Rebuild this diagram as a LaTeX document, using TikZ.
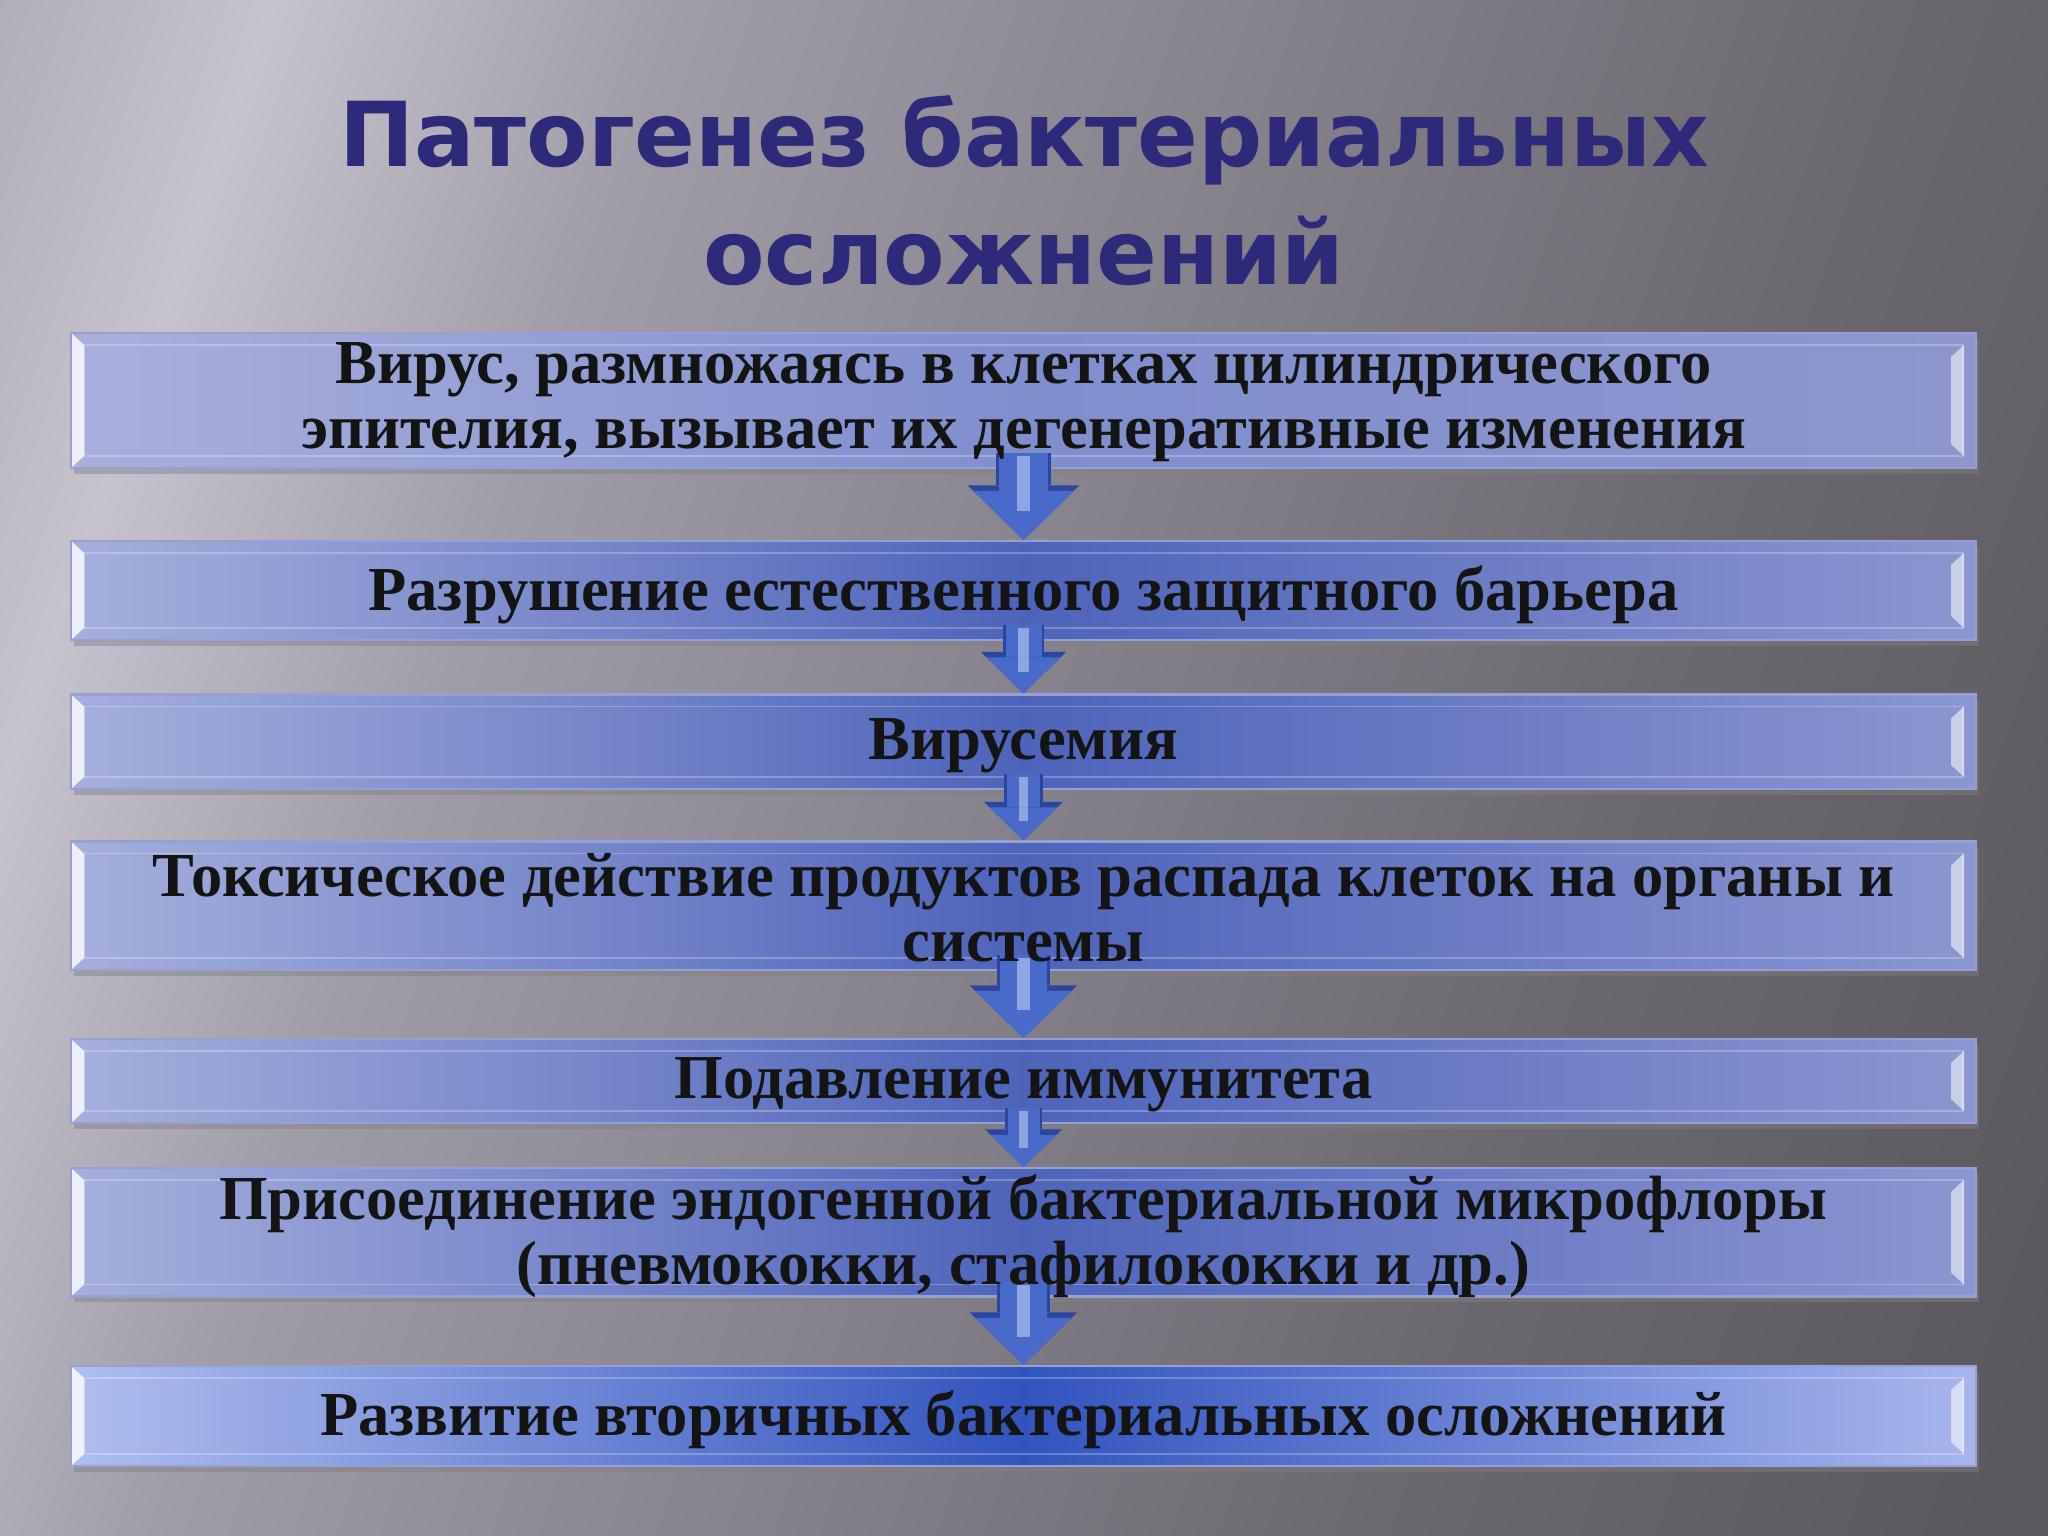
\documentclass[tikz,border=0pt]{standalone}
\usepackage{fontspec}
\setmainfont{Liberation Serif}
\newfontfamily\titlefont{DejaVu Sans}
\usetikzlibrary{arrows.meta,shadows}

\definecolor{titleblue}{RGB}{46,42,122}
\definecolor{boxedge}{RGB}{150,160,210}
\definecolor{boxleft}{RGB}{166,175,220}
\definecolor{boxmid}{RGB}{78,100,186}
\definecolor{boxright}{RGB}{140,150,208}
\definecolor{arrowblue}{RGB}{74,106,202}
\definecolor{arrowedge}{RGB}{44,70,160}
\definecolor{arrowlight}{RGB}{200,212,248}
\definecolor{bgA}{RGB}{152,148,160}
\definecolor{bgB}{RGB}{170,166,178}
\definecolor{bgC}{RGB}{198,194,206}
\definecolor{bgD}{RGB}{160,156,168}
\definecolor{bgE}{RGB}{134,130,140}
\definecolor{bgF}{RGB}{108,104,112}
\definecolor{bgG}{RGB}{92,88,95}
\pgfdeclarehorizontalshading{slideshade}{100bp}{color(0bp)=(bgA); color(16bp)=(bgB);
  color(25bp)=(bgC); color(35bp)=(bgD); color(50bp)=(bgE); color(65bp)=(bgF);
  color(80bp)=(bgG); color(100bp)=(bgG)}

\tikzset{
  stage/.style={rectangle, draw=boxedge, line width=0.6pt, inner sep=0pt,
    minimum width=19.05cm, minimum height=#1,
    left color=boxleft, right color=boxright, middle color=boxmid,
    drop shadow={opacity=0.45, shadow xshift=0.03cm, shadow yshift=-0.06cm},
    path picture={
      \fill[white, opacity=0.8] (path picture bounding box.north west)
        -- ([shift={(0.13,-0.12)}]path picture bounding box.north west)
        -- ([shift={(0.13,0.12)}]path picture bounding box.south west)
        -- (path picture bounding box.south west) -- cycle;
      \fill[white, opacity=0.55] ([shift={(-0.12,-0.12)}]path picture bounding box.north east)
        -- ([shift={(-0.25,-0.24)}]path picture bounding box.north east)
        -- ([shift={(-0.25,0.24)}]path picture bounding box.south east)
        -- ([shift={(-0.12,0.12)}]path picture bounding box.south east) -- cycle;
      \draw[white, opacity=0.25, line width=0.5pt]
        ([shift={(0.13,-0.12)}]path picture bounding box.north west) rectangle
        ([shift={(-0.13,0.12)}]path picture bounding box.south east);
    }},
  stagetext/.style={font=\bfseries\fontsize{17.8}{18.6}\selectfont, align=center, text=black!92},
  heading/.style={font=\titlefont\bfseries\fontsize{25.5}{30}\selectfont, text=titleblue, anchor=base},
  flow/.style={draw=arrowblue, line width=#1cm,
    -{Triangle[length=0pt 1, width=0pt 2.05, line width=0pt]},
    preaction={draw=arrowedge, line width=#1cm+1.6pt,
      -{Triangle[length=0pt 1, width=0pt 2.05, line width=0pt]}},
    postaction={draw=arrowlight, opacity=0.55, line width=0.28*#1cm, arrows=-,
      shorten >=0.6*#1cm, shorten <=0.03cm}}
}

\begin{document}
\begin{tikzpicture}
\useasboundingbox (0,0) rectangle (20.48,15.36);
\shade[shading=slideshade, shading angle=-19] (0,0) rectangle (20.48,15.36);

% title
\node[heading] (title1) at (10.24,13.69) {Патогенез бактериальных};
\node[heading] (title2) at (10.24,12.51) {осложнений};

% stages
\node[stage=1.35cm, left color={rgb,255:red,170;green,176;blue,220},
  right color={rgb,255:red,142;green,150;blue,205},
  middle color={rgb,255:red,128;green,142;blue,206}] (b1) at (10.235,11.355) {};
\node[stage=0.99cm] (b2) at (10.235,9.455) {};
\node[stage=0.945cm] (b3) at (10.235,7.9425) {};
\node[stage=1.285cm] (b4) at (10.235,6.3025) {};
\node[stage=0.84cm] (b5) at (10.235,4.55) {};
\node[stage=1.285cm] (b6) at (10.235,3.0375) {};
\node[stage=1.0cm, left color={rgb,255:red,176;green,190;blue,238},
  right color={rgb,255:red,168;green,182;blue,236},
  middle color={rgb,255:red,50;green,84;blue,190}] (b7) at (10.235,1.2) {};

% arrows
\path[flow=0.49] ([yshift=0.16cm]b1.south) -- (b2.north);
\path[flow=0.36] ([yshift=0.16cm]b2.south) -- (b3.north);
\path[flow=0.33] ([yshift=0.16cm]b3.south) -- (b4.north);
\path[flow=0.47] ([yshift=0.16cm]b4.south) -- (b5.north);
\path[flow=0.32] ([yshift=0.16cm]b5.south) -- (b6.north);
\path[flow=0.47] ([yshift=0.16cm]b6.south) -- (b7.north);

% texts
\node[stagetext] (t1) at ([yshift=-0.02cm]b1.center) {Вирус, размножаясь в клетках цилиндрического\\эпителия, вызывает их дегенеративные изменения};
\node[stagetext] (t2) at ([yshift=-0.04cm]b2.center) {Разрушение естественного защитного барьера};
\node[stagetext] (t3) at ([yshift=-0.04cm]b3.center) {Вирусемия};
\node[stagetext] (t4) at ([yshift=-0.02cm]b4.center) {Токсическое действие продуктов распада клеток на органы и\\системы};
\node[stagetext] (t5) at ([yshift=-0.04cm]b5.center) {Подавление иммунитета};
\node[stagetext] (t6) at ([yshift=-0.04cm]b6.center) {Присоединение эндогенной бактериальной микрофлоры\\(пневмококки, стафилококки и др.)};
\node[stagetext] (t7) at ([yshift=-0.04cm]b7.center) {Развитие вторичных бактериальных осложнений};
\end{tikzpicture}
\end{document}
